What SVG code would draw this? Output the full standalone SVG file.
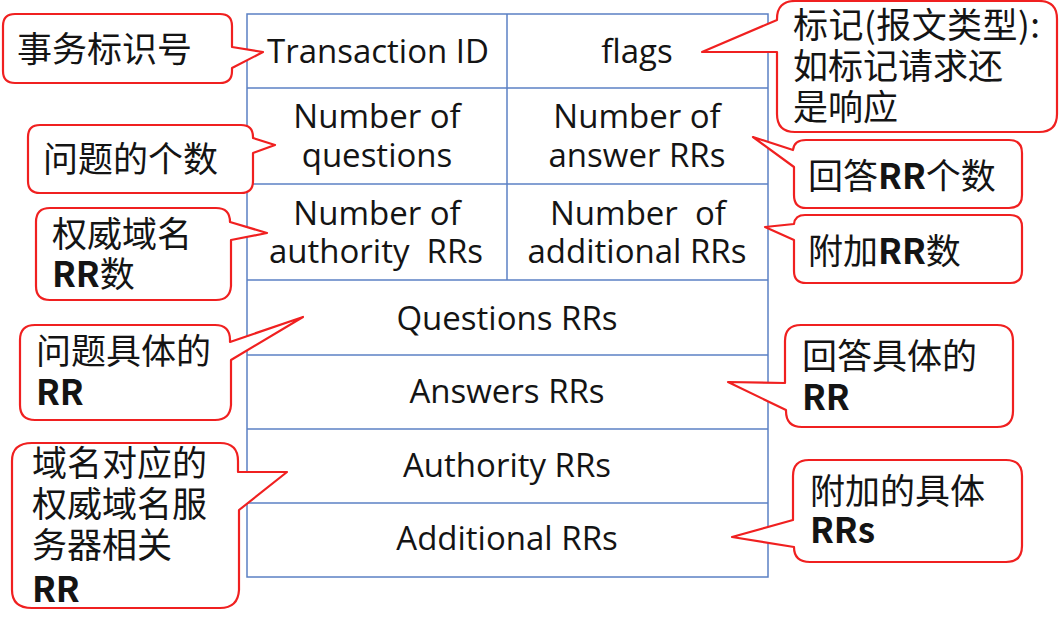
<svg xmlns="http://www.w3.org/2000/svg" width="1061" height="618" viewBox="0 0 1061 618">
<style>
.bg{fill:#ffffff}
.grid{stroke:#5b80c4;stroke-width:1.5;fill:none}
.cell{font-family:"Open Sans","Noto Sans",sans-serif;font-size:33px;fill:#141414;text-anchor:middle}
.bubble{fill:#ffffff;stroke:#f02020;stroke-width:2.2;stroke-linejoin:round}
.cn{font-family:"Noto Sans CJK SC","Noto Sans",sans-serif;font-size:35px;fill:#141414}
.b{font-weight:bold}
</style>
<rect class="bg" x="0" y="0" width="1061" height="618"/>
<g id="table">
  <rect class="grid" x="247" y="14" width="521" height="563"/>
  <line class="grid" x1="507" y1="14" x2="507" y2="280"/>
  <line class="grid" x1="247" y1="88" x2="768" y2="88"/>
  <line class="grid" x1="247" y1="184" x2="768" y2="184"/>
  <line class="grid" x1="247" y1="280" x2="768" y2="280"/>
  <line class="grid" x1="247" y1="355" x2="768" y2="355"/>
  <line class="grid" x1="247" y1="429" x2="768" y2="429"/>
  <line class="grid" x1="247" y1="503" x2="768" y2="503"/>
</g>
<g id="cell-transaction-id"><text class="cell" x="378" y="63">Transaction ID</text></g>
<g id="cell-flags"><text class="cell" x="637" y="63">flags</text></g>
<g id="cell-num-questions"><text class="cell" x="377" y="128">Number of</text><text class="cell" x="377" y="167">questions</text></g>
<g id="cell-num-answer"><text class="cell" x="637" y="128">Number of</text><text class="cell" x="637" y="167">answer RRs</text></g>
<g id="cell-num-authority"><text class="cell" x="377" y="225">Number of</text><text class="cell" x="376" y="263" xml:space="preserve">authority  RRs</text></g>
<g id="cell-num-additional"><text class="cell" x="638" y="225" xml:space="preserve">Number  of</text><text class="cell" x="637" y="263">additional RRs</text></g>
<g id="cell-questions"><text class="cell" x="507" y="330">Questions RRs</text></g>
<g id="cell-answers"><text class="cell" x="507" y="403">Answers RRs</text></g>
<g id="cell-authority"><text class="cell" x="507" y="477">Authority RRs</text></g>
<g id="cell-additional"><text class="cell" x="507" y="550">Additional RRs</text></g>

<g id="connectors"></g>

<g id="callout-transaction">
  <path class="bubble" d="M15,14 H220 Q232,14 232,26 V47 L263,52 L232,68 V71 Q232,83 220,83 H15 Q3,83 3,71 V26 Q3,14 15,14 Z"/>
  <text class="cn" x="17" y="62">事务标识号</text>
</g>
<g id="callout-questions-count">
  <path class="bubble" d="M40,125 H241 Q253,125 253,137 V138 L275,145 L253,153 V181 Q253,193 241,193 H40 Q28,193 28,181 V137 Q28,125 40,125 Z"/>
  <text class="cn" x="43" y="172">问题的个数</text>
</g>
<g id="callout-authority-count">
  <path class="bubble" d="M50,208 H216 Q230,208 230,222 L267,233 L231,240 V286 Q230,300 216,300 H50 Q36,300 36,286 V222 Q36,208 50,208 Z"/>
  <text class="cn" x="52" y="247">权威域名</text>
  <text class="cn" x="52" y="287"><tspan class="b">RR</tspan>数</text>
</g>
<g id="callout-questions-rr">
  <path class="bubble" d="M35,325 H215 Q230,325 230,340 V342 L303,317 L231,360 V405 Q230,420 215,420 H35 Q20,420 20,405 V340 Q20,325 35,325 Z"/>
  <text class="cn" x="36" y="364">问题具体的</text>
  <text class="cn b" x="36" y="405">RR</text>
</g>
<g id="callout-authority-rr">
  <path class="bubble" d="M32,443 H220 Q238,443 238,461 V472 L287,472 L239,510 V590 Q238,608 220,608 H32 Q12,608 12,590 V461 Q12,443 32,443 Z"/>
  <text class="cn" x="32" y="476">域名对应的</text>
  <text class="cn" x="32" y="517">权威域名服</text>
  <text class="cn" x="32" y="558">务器相关</text>
  <text class="cn b" x="32" y="602">RR</text>
</g>
<g id="callout-flags">
  <path class="bubble" d="M795,1 H1039 Q1057,1 1057,19 V114 Q1057,132 1039,132 H795 Q777,132 777,114 V52 L702,52 L777,20 V19 Q777,1 795,1 Z"/>
  <text class="cn" x="793" y="38" textLength="247">标记(报文类型):</text>
  <text class="cn" x="793" y="79">如标记请求还</text>
  <text class="cn" x="793" y="120">是响应</text>
</g>
<g id="callout-answer-count">
  <path class="bubble" d="M806,140 H1009 Q1022,140 1022,153 V195 Q1022,208 1009,208 H806 Q794,208 794,195 V167 L753,137 L793,150 Q794,140 806,140 Z"/>
  <text class="cn" x="808" y="189">回答<tspan class="b">RR</tspan>个数</text>
</g>
<g id="callout-additional-count">
  <path class="bubble" d="M805,215 H1010 Q1022,215 1022,227 V271 Q1022,283 1010,283 H806 Q794,283 794,271 V240 L765,227 L794,224 Q795,215 805,215 Z"/>
  <text class="cn" x="808" y="264">附加<tspan class="b">RR</tspan>数</text>
</g>
<g id="callout-answers-rr">
  <path class="bubble" d="M801,325 H997 Q1013,325 1013,341 V411 Q1013,427 997,427 H802 Q786,427 786,411 V410 L728,382 L785,383 V341 Q785,325 801,325 Z"/>
  <text class="cn" x="802" y="369">回答具体的</text>
  <text class="cn b" x="802" y="410">RR</text>
</g>
<g id="callout-additional-rr">
  <path class="bubble" d="M809,460 H1006 Q1022,460 1022,476 V546 Q1022,562 1006,562 H810 Q794,562 794,547 L732,537 L793,520 V476 Q793,460 809,460 Z"/>
  <text class="cn" x="810" y="504">附加的具体</text>
  <text class="cn b" x="810" y="543">RRs</text>
</g>
</svg>
